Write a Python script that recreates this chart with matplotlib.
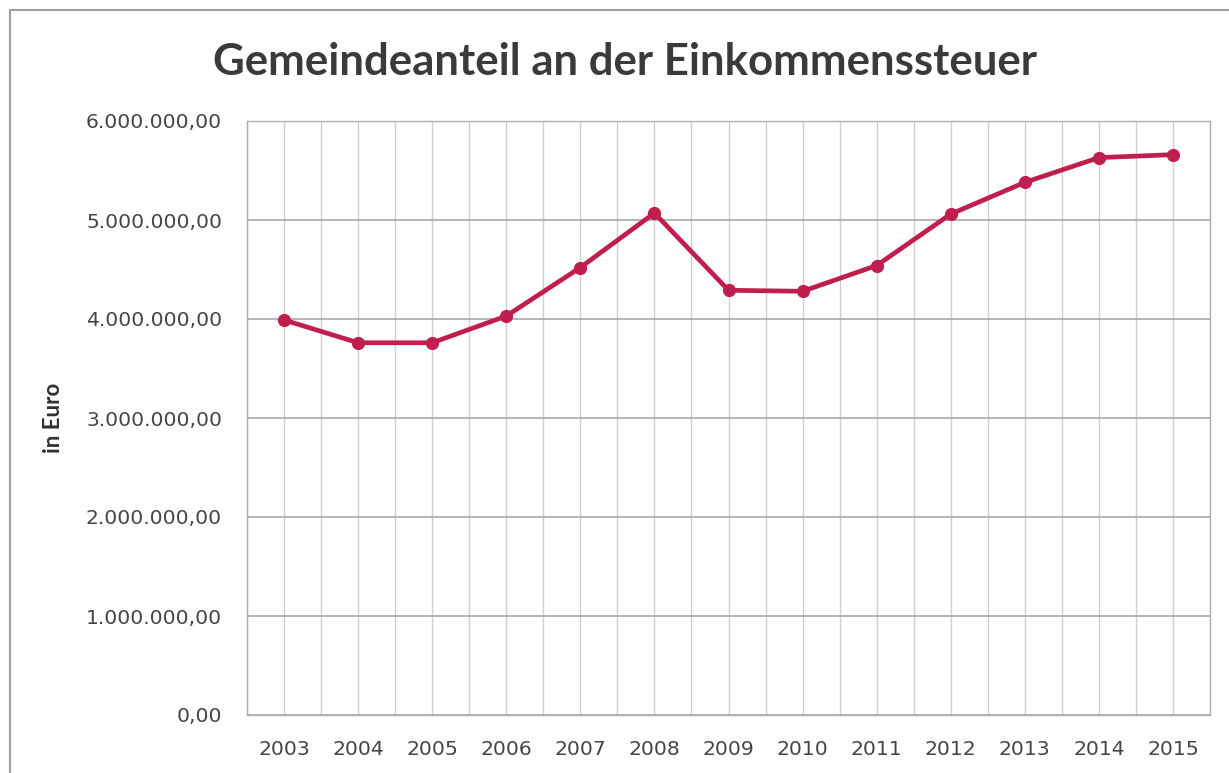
import matplotlib
matplotlib.use("Agg")
import matplotlib.pyplot as plt
from matplotlib.ticker import FuncFormatter, MultipleLocator
from matplotlib.patches import Rectangle

years = ["2003", "2004", "2005", "2006", "2007", "2008", "2009",
         "2010", "2011", "2012", "2013", "2014", "2015"]
values = [3990000, 3760000, 3760000, 4030000, 4520000, 5070000, 4290000,
          4280000, 4540000, 5060000, 5380000, 5630000, 5660000]
y_ticks = [0, 1000000, 2000000, 3000000, 4000000, 5000000, 6000000]

plt.rcParams['font.family'] = ['DejaVu Sans']

fig = plt.figure(figsize=(12.29, 7.73), dpi=100)
ax = fig.add_axes([247/1229, 1-715/773, (1210-247)/1229, (715-121)/773])

x = list(range(len(years)))
ax.plot(x, values, color='#C01F4E', lw=3.4, marker='o', ms=8.5,
        markerfacecolor='#C01F4E', markeredgecolor='#C01F4E', zorder=3)

ax.set_xlim(-0.5, len(years) - 0.5)
ax.set_ylim(0, 6000000)
ax.set_yticks(y_ticks)
ax.yaxis.set_major_formatter(FuncFormatter(
    lambda v, p: f"{v:,.2f}".replace(",", "X").replace(".", ",").replace("X", ".")))
ax.set_xticks(x)
ax.set_xticklabels(years)
ax.xaxis.set_minor_locator(MultipleLocator(0.5))

ax.grid(axis='y', which='major', color='#A8A8A8', lw=1.2)
ax.grid(axis='x', which='major', color='#CFCFCF', lw=1.0)
ax.grid(axis='x', which='minor', color='#CFCFCF', lw=1.0)
ax.set_axisbelow(True)

for s in ax.spines.values():
    s.set_color('#B0B0B0')
    s.set_linewidth(1.0)

ax.tick_params(axis='both', which='both', length=0, colors='#454545')
ax.tick_params(axis='x', pad=18, labelsize=14.7)
ax.tick_params(axis='y', pad=18, labelsize=14.6)

ax.set_ylabel("in Euro", fontsize=16, fontweight='bold', color='#303030',
              labelpad=16, family=['Lato', 'DejaVu Sans'])

fig.text(0.5085, 1 - 62/773, "Gemeindeanteil an der Einkommenssteuer",
         ha='center', va='center', fontsize=31.5, fontweight='bold',
         color='#3A3A3A', family=['Lato', 'DejaVu Sans'])

fig.patches.append(Rectangle((10/1229, -0.01), 1.1, 1 - 10/773 + 0.01,
                             transform=fig.transFigure, fill=False,
                             edgecolor='#A0A0A0', lw=1.5))

fig.savefig("out.png", dpi=100, facecolor='white')
